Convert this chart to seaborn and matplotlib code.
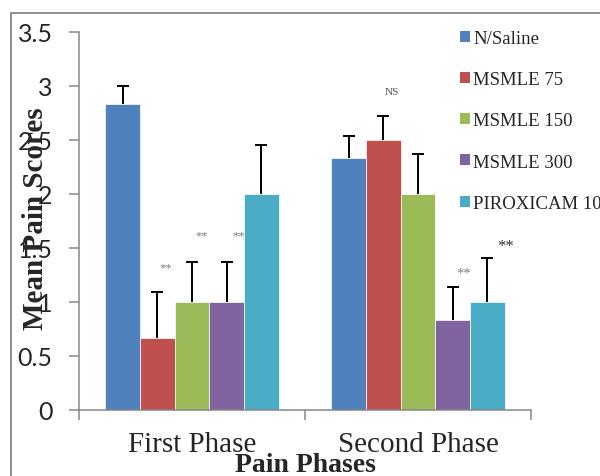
import matplotlib
matplotlib.use("Agg")
import matplotlib.pyplot as plt
from matplotlib.patches import Patch
from matplotlib.lines import Line2D
import seaborn as sns
import pandas as pd

# ---- data ----
phases = ["First Phase", "Second Phase"]
groups = ["N/Saline", "MSMLE 75", "MSMLE 150", "MSMLE 300", "PIROXICAM 10"]
first_phase = [2.83, 0.67, 1.00, 1.00, 2.00]
second_phase = [2.33, 2.50, 2.00, 0.83, 1.00]
first_err = [0.17, 0.42, 0.37, 0.37, 0.45]
second_err = [0.21, 0.22, 0.37, 0.31, 0.41]
first_marks = ["", "**", "**", "**", ""]
second_marks = ["", "NS", "", "**", "**"]
first_mark_y = [0, 1.32, 1.62, 1.62, 0]
second_mark_y = [0, 2.95, 0, 1.27, 1.52]
yticks = [0, 0.5, 1, 1.5, 2, 2.5, 3, 3.5]
ytick_labels = ["0", "0.5", "1", "1.5", "2", "2.5", "3", "3.5"]
colors = ["#4F81BD", "#C0504D", "#9BBB59", "#8064A2", "#4BACC6"]

rows = []
for g, v1, v2 in zip(groups, first_phase, second_phase):
    rows.append({"phase": phases[0], "group": g, "score": v1})
    rows.append({"phase": phases[1], "group": g, "score": v2})
df = pd.DataFrame(rows)

sns.set_style("white")
plt.rcParams["font.family"] = ["Liberation Serif", "DejaVu Serif"]

fig = plt.figure(figsize=(6.0, 4.77), dpi=100)
W, H = 600, 477
ax = fig.add_axes([79 / W, 1 - 411 / H, (531 - 79) / W, (411 - 33) / H])

sns.barplot(data=df, x="phase", y="score", hue="group", order=phases,
            hue_order=groups, palette=colors, width=0.766, errorbar=None,
            saturation=1, edgecolor="white", linewidth=0.5, legend=False, ax=ax)

errs = [first_err, second_err]
marks = [first_marks, second_marks]
mark_y = [first_mark_y, second_mark_y]
mark_dx = [[0, 6, 7, 9, 0], [0, 6, 0, 8, 13]]
mark_size = [[8, 9, 9, 9, 8], [8, 8, 8, 10.5, 12]]
mark_color = [["#7f7f7f"] * 5, ["#555555", "#555555", "#555555", "#7f7f7f", "#333333"]]
bar_containers = list(ax.containers)
for gi, cont in enumerate(bar_containers):
    for pi, bar in enumerate(cont.patches):
        xc = bar.get_x() + bar.get_width() / 2
        h = bar.get_height()
        eb = ax.errorbar(xc, h, yerr=[[0], [errs[pi][gi]]], fmt="none", ecolor="black",
                         elinewidth=1.4, capsize=4.5, capthick=1.4)
        # keep only the upper cap
        for cap in eb[1]:
            if abs(cap.get_ydata()[0] - h) < 1e-9:
                cap.set_visible(False)
        m = marks[pi][gi]
        if m:
            ax.annotate(m, (xc, mark_y[pi][gi]), xytext=(mark_dx[pi][gi], 0),
                        textcoords="offset points", ha="center", va="center",
                        fontsize=mark_size[pi][gi], color=mark_color[pi][gi])

ax.set_ylim(0, 3.5)
ax.set_xlim(-0.5, 1.5)
ax.set_yticks(yticks)
ax.set_yticklabels(ytick_labels, fontfamily="Lato", fontsize=18)
ax.set_xticks([0, 1])
ax.set_xticklabels(phases, fontsize=21)
ax.set_xticks([-0.5, 0.5, 1.5], minor=True)
ax.tick_params(axis="x", which="major", length=0, pad=15)
ax.tick_params(axis="x", which="minor", length=7, width=1.1, color="#868686", direction="out", bottom=True)
ax.tick_params(axis="y", which="major", length=7, width=1.1, color="#868686", direction="out", pad=12, left=True)

for s in ["top", "right"]:
    ax.spines[s].set_visible(False)
for s in ["left", "bottom"]:
    ax.spines[s].set_color("#868686")
    ax.spines[s].set_linewidth(1.1)

ax.set_xlabel("Pain Phases", fontsize=20, fontweight="bold", va="baseline")
ax.xaxis.set_label_coords(0.5, (411 - 472) / 378)
ax.set_ylabel("Mean Pain Scores", fontsize=21, fontweight="bold", va="baseline", ha="center")
ax.yaxis.set_label_coords((43 - 79) / 452, 0.508)

handles = [Patch(facecolor=c, edgecolor="none") for c in colors]
ax.legend(handles, groups, loc="upper left", bbox_to_anchor=(460 / W, 1 - 31 / H),
          bbox_transform=fig.transFigure, frameon=False, fontsize=13.5,
          handlelength=0.53, handleheight=0.53, handletextpad=0.18,
          labelspacing=1.29, borderpad=0, borderaxespad=0)

fig.add_artist(Line2D([10.5 / W, 10.5 / W], [0, 1 - 14 / H], transform=fig.transFigure,
                      color="#868686", lw=1.3))
fig.add_artist(Line2D([10.5 / W, 1], [1 - 14 / H, 1 - 14 / H], transform=fig.transFigure,
                      color="#868686", lw=1.3))

fig.savefig("out.png", dpi=100)
